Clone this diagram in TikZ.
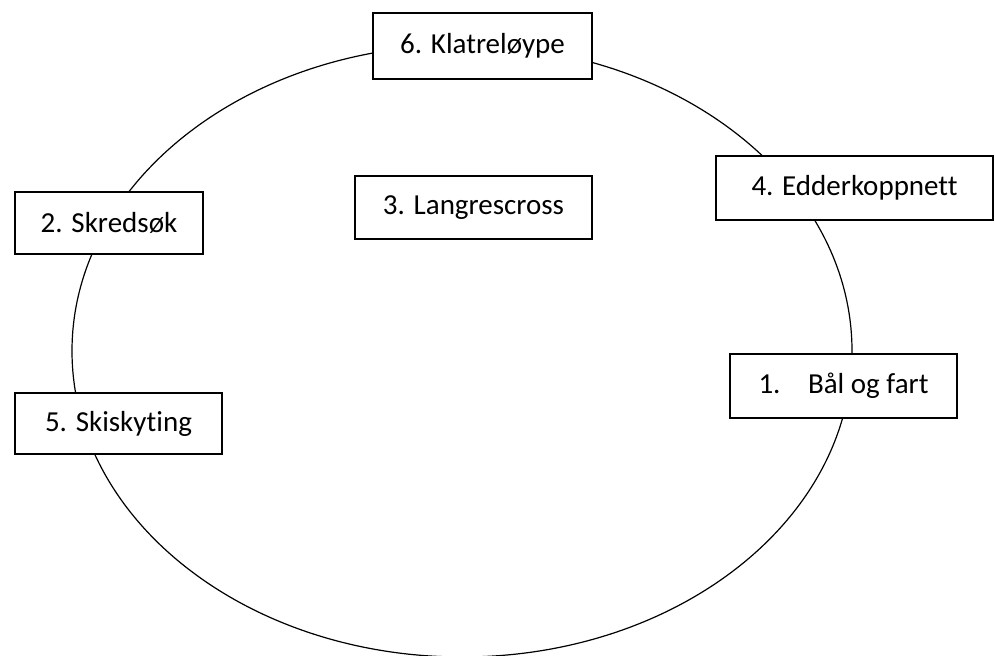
\documentclass[tikz,border=0pt]{standalone}
\usepackage{fontspec}
\setmainfont[Ligatures={NoCommon}]{Carlito}

\begin{document}
\begin{tikzpicture}[x=0.75pt,y=-0.75pt]
	\tikzstyle{every node}=[font=\fontsize{21.75}{26}\selectfont]
	\tikzstyle{post}=[draw,line width=1.2pt,fill=white,rectangle,inner sep=0pt,outer sep=0pt]
	\useasboundingbox (0,0) rectangle (995,656);
	\clip (0,0) rectangle (995,656);
	% the round
	\draw[line width=0.9pt] (462,351) ellipse [x radius=390, y radius=306];
	% the posts
	\node[post,minimum width=164.25pt,minimum height=49.5pt] (klatre) at (482.5,46) {6. Klatreløype};
	\node[post,minimum width=141pt,minimum height=46.5pt] (skred) at (109,223) {2. Skredsøk};
	\node[post,minimum width=177.75pt,minimum height=47.25pt] (langres) at (473.5,207.5) {3. Langrescross};
	\node[post,minimum width=207.75pt,minimum height=48pt] (edderkopp) at (854.5,188) {4. Edderkoppnett};
	\node[post,minimum width=170.25pt,minimum height=48pt] (baal) at (843.5,386) {1.\hspace{0.95em}Bål og fart};
	\node[post,minimum width=155.25pt,minimum height=45.75pt] (skiskyt) at (118.5,423.5) {5. Skiskyting};
\end{tikzpicture}
\end{document}
